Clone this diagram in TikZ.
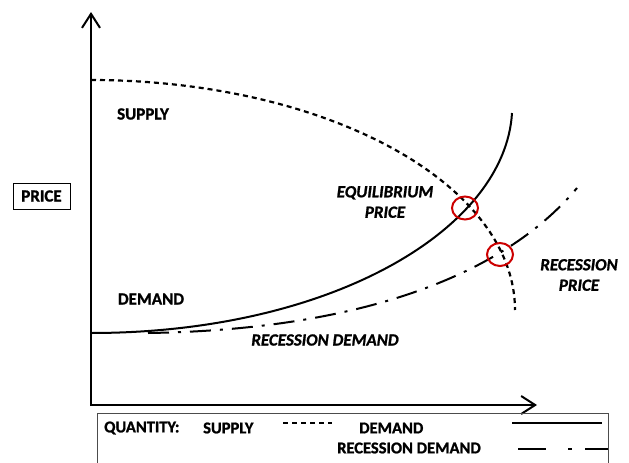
\documentclass[tikz,border=0pt]{standalone}
\usepackage{fontspec}
\setmainfont{Carlito-Regular.ttf}
\newfontfamily\cbold[FakeBold=1.2]{Carlito-Bold.ttf}
\newfontfamily\cbolditalic[FakeBold=1.2]{Carlito-BoldItalic.ttf}
\usetikzlibrary{arrows.meta,shapes.geometric}
\tikzset{
  axis/.style={line width=2.5pt, -{Straight Barb[length=14pt,width=18pt,line width=2pt]}},
  curve/.style={line width=2pt},
  supplyline/.style={line width=2.2pt, dash pattern=on 5pt off 4pt},
  recline/.style={line width=2pt, dash pattern=on 21pt off 9pt on 3pt off 9pt},
  lbl/.style={font=\cbold\fontsize{17}{19}\selectfont, inner sep=0pt},
  ilbl/.style={font=\cbolditalic\fontsize{17}{20.5}\selectfont, inner sep=0pt, align=center},
  leg/.style={font=\cbold\fontsize{16.5}{18}\selectfont, inner sep=0pt, anchor=west},
  mark circle/.style={draw=red!80!black, line width=2pt, ellipse, minimum width=26pt, minimum height=23pt, inner sep=0pt},
}
\begin{document}
\begin{tikzpicture}[x=1pt,y=-1pt]
\useasboundingbox (0,0) rectangle (629,463);
% axes
\coordinate (O) at (91,406);
\coordinate (Ytop) at (91,12);
\coordinate (Xo) at (90,405);
\coordinate (Xend) at (537,405);
\draw[axis] (O) -- (Ytop);
\draw[axis] (Xo) -- (Xend);
% supply (quarter ellipse)
\draw[supplyline] plot[domain=90:0, samples=60, smooth] ({91+424*cos(\x)},{310-230*sin(\x)});
% demand
\coordinate (D0) at (91,333);
\coordinate (D1) at (512,113);
\draw[curve] (D0) .. controls (330,333) and (505,230) .. (D1);
% recession demand
\coordinate (R0) at (148,333);
\coordinate (R1) at (577,188);
\draw[recline] (R0) .. controls (350,330) and (500,280) .. (R1);
% circles
\node[mark circle] (eq) at (465,208) {};
\node[mark circle] (rp) at (500,254.5) {};
% labels
\node[lbl] (sup) at (143,114) {SUPPLY};
\node[lbl] (dem) at (151,299) {DEMAND};
\node[ilbl] (recd) at (325,340) {RECESSION DEMAND};
\node[ilbl] (eqp) at (385,202) {EQUILIBRIUM\\PRICE};
\node[ilbl] (recp) at (579,275) {RECESSION\\PRICE};
\node[lbl, draw, line width=0.8pt, minimum width=57pt, minimum height=26pt] (price) at (41.5,196) {PRICE};
% legend
\node[draw=black!70, line width=0.8pt, minimum width=511pt, minimum height=50pt, inner sep=0pt] (legbox) at (352.5,438) {};
\node[leg] (lq) at (104,428) {QUANTITY:};
\node[leg] (ls) at (203,428) {SUPPLY};
\node[leg] (ld) at (359,428) {DEMAND};
\node[leg] (lr) at (337,448) {RECESSION DEMAND};
\coordinate (a1) at (283,423); \coordinate (a2) at (332,423);
\draw[line width=2pt, dash pattern=on 5pt off 4pt] (a1) -- (a2);
\coordinate (b1) at (512,423); \coordinate (b2) at (602,423);
\draw[line width=2pt] (b1) -- (b2);
\coordinate (c1) at (518,449); \coordinate (c2) at (608,449);
\draw[line width=2pt, dash pattern=on 28pt off 22pt on 4pt off 13pt] (c1) -- (c2);
\end{tikzpicture}
\end{document}
